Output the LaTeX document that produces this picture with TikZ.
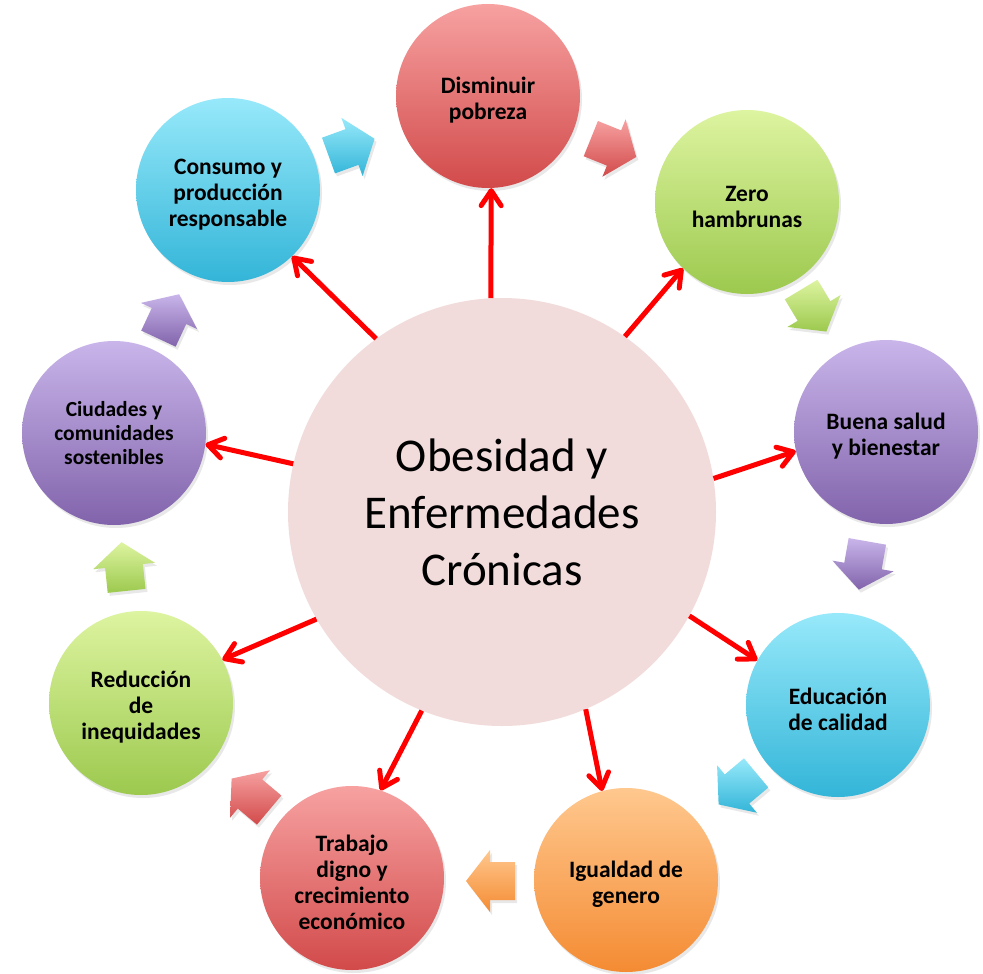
\documentclass[tikz,border=0pt]{standalone}
\usepackage{fontspec}
\setmainfont{Carlito}
\usetikzlibrary{arrows.meta,shadows}
\definecolor{redT}{HTML}{F7A1A1}\definecolor{redB}{HTML}{D24A4A}
\definecolor{greenT}{HTML}{DDF4A0}\definecolor{greenB}{HTML}{9CC94E}
\definecolor{purpT}{HTML}{C9B5EA}\definecolor{purpB}{HTML}{8163AB}
\definecolor{blueT}{HTML}{97E9FA}\definecolor{blueB}{HTML}{33B5D8}
\definecolor{oranT}{HTML}{FFC88E}\definecolor{oranB}{HTML}{F48B33}
\definecolor{centerfill}{HTML}{F2DCDB}
\definecolor{linkred}{HTML}{FF0000}
\newcommand\tdown{\rule{0pt}{25pt}}
\tikzset{
  outer/.style={circle, minimum size=184pt, inner sep=0pt, align=center,
    font=\bfseries\fontsize{23.5}{26}\selectfont,
    drop shadow={opacity=0.18, shadow xshift=2pt, shadow yshift=-3pt}},
  cred/.style={top color=redT, bottom color=redB},
  cgreen/.style={top color=greenT, bottom color=greenB},
  cpurp/.style={top color=purpT, bottom color=purpB},
  cblue/.style={top color=blueT, bottom color=blueB},
  coran/.style={top color=oranT, bottom color=oranB},
  link/.style={draw=linkred, line width=5pt, -{Straight Barb[length=15pt,width=20pt,round]}},
  barrow/.style={drop shadow={opacity=0.18, shadow xshift=2pt, shadow yshift=-3pt}}
}
\newcommand\blockarr[4]{%
  \path[barrow, #4, shift={(#1,#2)}, rotate=#3]
    (-25,-19) -- (0,-19) -- (0,-31) -- (24,0) -- (0,31) -- (0,19) -- (-25,19) -- cycle;}
\begin{document}
\begin{tikzpicture}[x=1pt,y=-1pt]
\useasboundingbox (0,0) rectangle (983,974);
\fill[white] (0,0) rectangle (983,974);
% center
\node[circle, fill=centerfill, minimum size=428pt, inner sep=0pt, align=center,
  font=\fontsize{47}{57}\selectfont] (C) at (502,512) {Obesidad y\\Enfermedades\\Crónicas};
% outer circles
\node[outer, cred]   (D)  at (488,96)  {\tdown Disminuir\\pobreza};
\node[outer, cgreen] (Z)  at (747,202) {\tdown Zero\\hambrunas};
\node[outer, cpurp]  (B)  at (886,432) {\tdown Buena salud\\y bienestar};
\node[outer, cblue]  (E)  at (838,705) {\tdown Educación\\de calidad};
\node[outer, coran]  (I)  at (626,880) {\tdown Igualdad de\\genero};
\node[outer, cred]   (T)  at (352,878) {\tdown Trabajo\\digno y\\crecimiento\\económico};
\node[outer, cgreen] (R)  at (141,703) {\tdown Reducción\\de\\inequidades};
\node[outer, cpurp, font=\bfseries\fontsize{21.5}{24}\selectfont] (Ci) at (114,433) {Ciudades y\\comunidades\\sostenibles};
\node[outer, cblue]  (Co) at (228,190) {\tdown Consumo y\\producción\\responsable};
% cycle block arrows
\blockarr{352}{147}{20}{cblue}
\blockarr{614}{148}{-22}{cred}
\blockarr{814}{311}{-59}{cgreen}
\blockarr{863}{566}{-100}{cpurp}
\blockarr{737}{789}{-140}{cblue}
\blockarr{490}{881}{180}{coran}
\blockarr{250}{794}{140}{cred}
\blockarr{124}{566}{96}{cgreen}
\blockarr{169}{316}{65}{cpurp}
% red connectors
\draw[link] (C.93)   -- (D.-88);
\draw[link] (C.55)   -- (Z.-134);
\draw[link] (C.9)    -- (B.-168);
\draw[link] (C.-29)  -- (E.151);
\draw[link] (C.-67)  -- (I.105);
\draw[link] (C.-112) -- (T.72);
\draw[link] (C.-150) -- (R.28);
\draw[link] (C.167)  -- (Ci.-7);
\draw[link] (C.126)  -- (Co.-46);
\end{tikzpicture}
\end{document}
